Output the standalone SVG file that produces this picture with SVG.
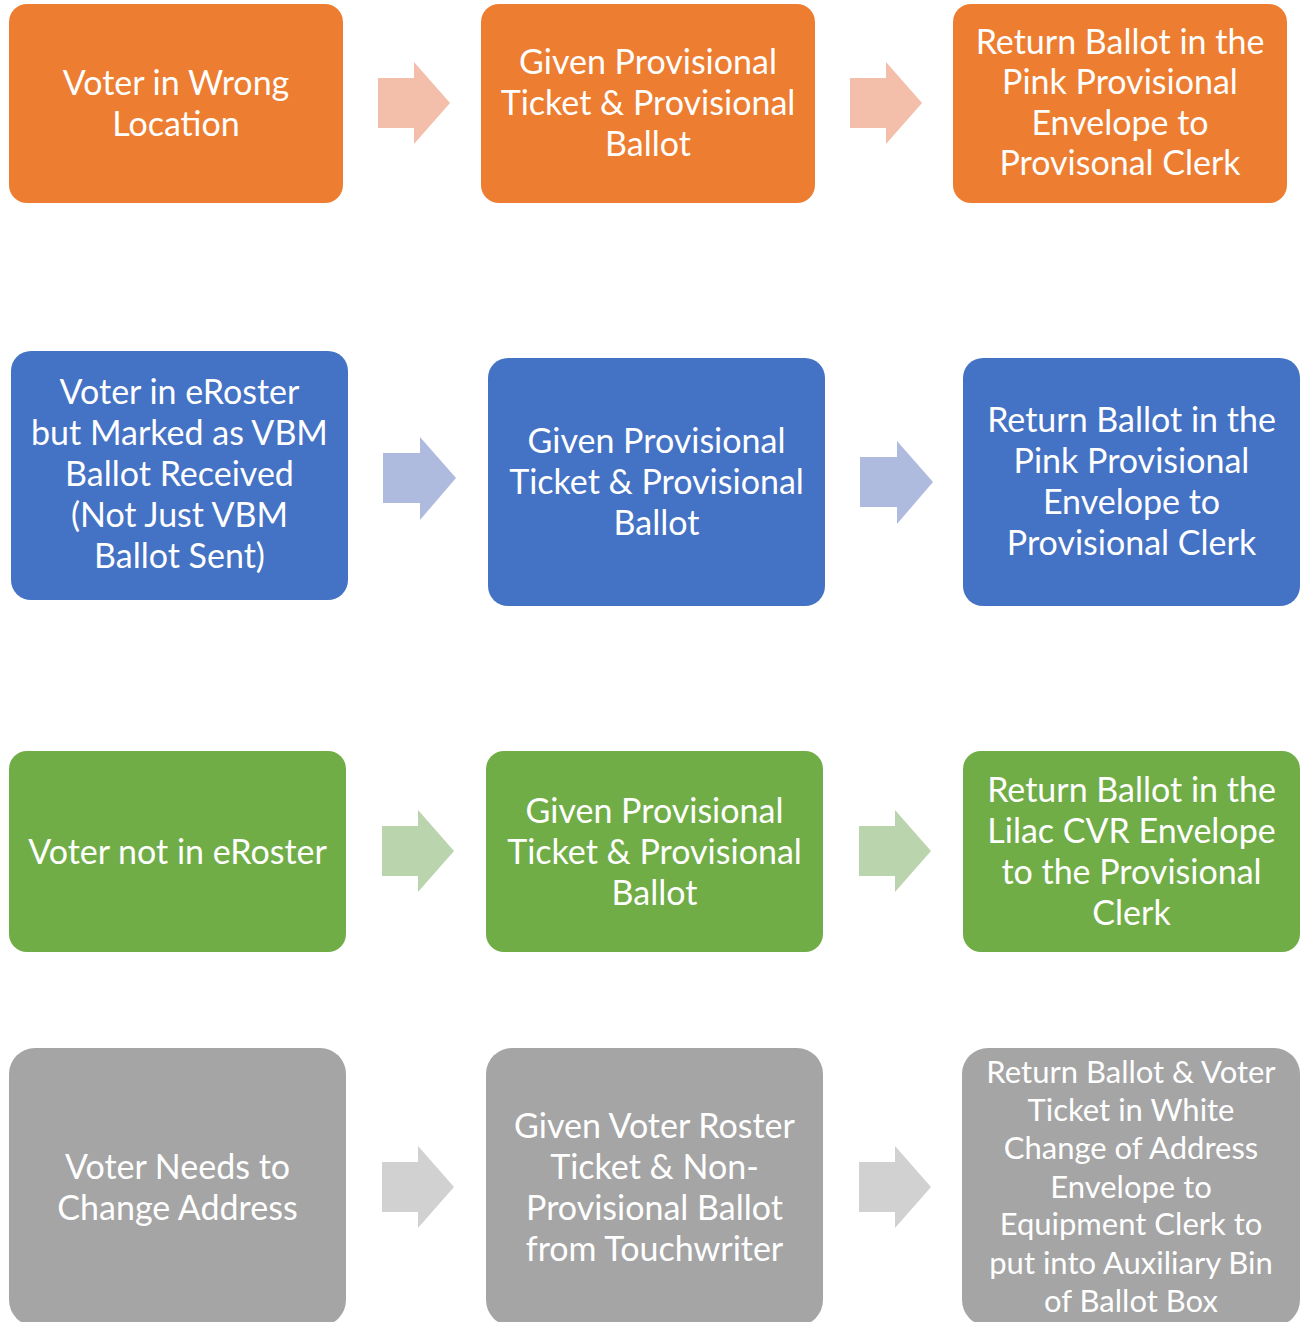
<svg xmlns="http://www.w3.org/2000/svg" width="1301" height="1322" viewBox="0 0 1301 1322">
<defs>
<style>
text{font-family:Lato,"Open Sans","Liberation Sans",sans-serif;font-size:34px;fill:#fff;text-anchor:middle}
.sm{font-size:31px}
.or{fill:#ED7D31}.bl{fill:#4472C4}.gr{fill:#70AD47}.gy{fill:#A5A5A5}
.aor{fill:#F4BFAA}.abl{fill:#AEBBDF}.agr{fill:#BAD4AD}.agy{fill:#D1D1D1}
</style>
</defs>
<rect width="1301" height="1322" fill="#fff"/>
<g id="connectors">
<polygon class="aor" points="378,78 414,78 414,62 450,103 414,144 414,128 378,128"/>
<polygon class="aor" points="850,78 886,78 886,62 922,103 886,144 886,128 850,128"/>
<polygon class="abl" points="383,453 420,453 420,437 456,478 420,520 420,503 383,503"/>
<polygon class="abl" points="860,457 897,457 897,441 933,482 897,524 897,507 860,507"/>
<polygon class="agr" points="382,826 418,826 418,810 454,851 418,892 418,876 382,876"/>
<polygon class="agr" points="859,826 895,826 895,810 931,851 895,892 895,876 859,876"/>
<polygon class="agy" points="382,1162 418,1162 418,1146 454,1187 418,1228 418,1212 382,1212"/>
<polygon class="agy" points="859,1162 895,1162 895,1146 931,1187 895,1228 895,1212 859,1212"/>
</g>
<g id="n1"><rect class="or" x="9" y="4" width="334" height="199" rx="18"/><text x="176" y="95">Voter in Wrong</text><text x="176" y="136">Location</text></g>
<g id="n2"><rect class="or" x="481" y="4" width="334" height="199" rx="18"/><text x="648" y="74">Given Provisional</text><text x="648" y="115">Ticket &amp; Provisional</text><text x="648" y="156">Ballot</text></g>
<g id="n3"><rect class="or" x="953" y="4" width="334" height="199" rx="18"/><text x="1120" y="54">Return Ballot in the</text><text x="1120" y="94">Pink Provisional</text><text x="1120" y="135">Envelope to</text><text x="1120" y="175">Provisonal Clerk</text></g>
<g id="n4"><rect class="bl" x="11" y="351" width="337" height="249" rx="20"/><text x="179.5" y="404">Voter in eRoster</text><text x="179.5" y="445">but Marked as VBM</text><text x="179.5" y="486">Ballot Received</text><text x="179.5" y="527">(Not Just VBM</text><text x="179.5" y="568">Ballot Sent)</text></g>
<g id="n5"><rect class="bl" x="488" y="358" width="337" height="248" rx="20"/><text x="656.5" y="453">Given Provisional</text><text x="656.5" y="494">Ticket &amp; Provisional</text><text x="656.5" y="535">Ballot</text></g>
<g id="n6"><rect class="bl" x="963" y="358" width="337" height="248" rx="20"/><text x="1131.5" y="432">Return Ballot in the</text><text x="1131.5" y="473">Pink Provisional</text><text x="1131.5" y="514">Envelope to</text><text x="1131.5" y="555">Provisional Clerk</text></g>
<g id="n7"><rect class="gr" x="9" y="751" width="337" height="201" rx="18"/><text x="177.5" y="864">Voter not in eRoster</text></g>
<g id="n8"><rect class="gr" x="486" y="751" width="337" height="201" rx="18"/><text x="654.5" y="823">Given Provisional</text><text x="654.5" y="864">Ticket &amp; Provisional</text><text x="654.5" y="905">Ballot</text></g>
<g id="n9"><rect class="gr" x="963" y="751" width="337" height="201" rx="18"/><text x="1131.5" y="802">Return Ballot in the</text><text x="1131.5" y="843">Lilac CVR Envelope</text><text x="1131.5" y="884">to the Provisional</text><text x="1131.5" y="925">Clerk</text></g>
<g id="n10"><rect class="gy" x="9" y="1048" width="337" height="278" rx="26"/><text x="177.5" y="1179">Voter Needs to</text><text x="177.5" y="1220">Change Address</text></g>
<g id="n11"><rect class="gy" x="486" y="1048" width="337" height="278" rx="26"/><text x="654.5" y="1138">Given Voter Roster</text><text x="654.5" y="1179">Ticket &amp; Non-</text><text x="654.5" y="1220">Provisional Ballot</text><text x="654.5" y="1261">from Touchwriter</text></g>
<g id="n12"><rect class="gy" x="962" y="1048" width="338" height="278" rx="26"/><text class="sm" x="1131" y="1083">Return Ballot &amp; Voter</text><text class="sm" x="1131" y="1121">Ticket in White</text><text class="sm" x="1131" y="1159">Change of Address</text><text class="sm" x="1131" y="1198">Envelope to</text><text class="sm" x="1131" y="1235">Equipment Clerk to</text><text class="sm" x="1131" y="1274">put into Auxiliary Bin</text><text class="sm" x="1131" y="1312">of Ballot Box</text></g>
</svg>
